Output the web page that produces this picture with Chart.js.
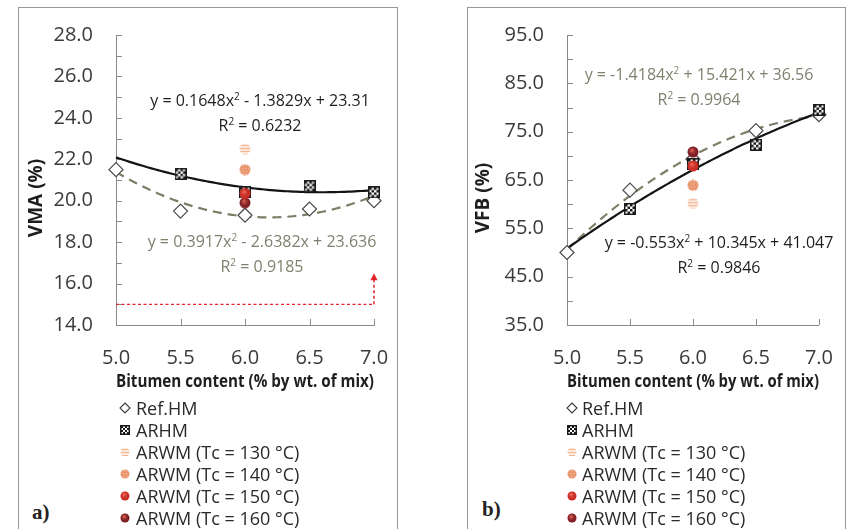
<!DOCTYPE html>
<html>
<head>
<meta charset="utf-8">
<script src="https://cdn.jsdelivr.net/npm/chart.js@4.4.1/dist/chart.umd.min.js"></script>
<style>
  html, body { margin: 0; padding: 0; background: #fff; }
  body { width: 854px; height: 529px; position: relative; overflow: hidden; font-family: "Open Sans", sans-serif; }
  .panel { position: absolute; border: 1px solid #9a9a9a; box-sizing: border-box; }
  canvas.chart { position: absolute; top: 0; }
  .eq { position: absolute; font-size: 16px; line-height: 21px; text-align: center; white-space: nowrap; transform: translateX(-50%); }
  .eq.dark { color: #1e1e1e; }
  .eq.grey { color: #80806f; }
  .legend { position: absolute; font-size: 18px; color: #2a2a2a; }
  .legend .item { position: absolute; height: 22px; white-space: nowrap; line-height: 22px; }
  .legend canvas { position: absolute; }
  .tag { position: absolute; font-family: "Liberation Serif", serif; font-weight: bold; font-size: 21px; color: #222; }
</style>
</head>
<body>
<div class="panel" style="left:18px; top:7px; width:380px; height:530px;"></div>
<div class="panel" style="left:467px; top:7px; width:379px; height:530px;"></div>
<canvas id="cA" class="chart" width="427" height="400" style="left:0px;"></canvas>
<canvas id="cB" class="chart" width="427" height="400" style="left:427px;"></canvas>
<div id="overlay"></div>
<script>
// ---------------- data ----------------
const bitumen = [5.0, 5.5, 6.0, 6.5, 7.0];
const arwmBitumen = 6.0;
const seriesNames = ['Ref.HM', 'ARHM', 'ARWM (Tc = 130 °C)', 'ARWM (Tc = 140 °C)', 'ARWM (Tc = 150 °C)', 'ARWM (Tc = 160 °C)'];

// VMA (%)
const vmaRefHM = [21.5, 19.5, 19.3, 19.6, 20.0];
const vmaARHM  = [null, 21.3, 20.4, 20.7, 20.4];
const vmaARWM  = [22.5, 21.5, 20.35, 19.9];      // Tc = 130, 140, 150, 160
const vmaFitARHM  = [0.1648, -1.3829, 23.31];
const vmaFitRefHM = [0.3917, -2.6382, 23.636];
const vmaR2 = ['0.6232', '0.9185'];
const vmaMinSpec = 15.0;
const vmaArrowTop = 16.5;
const vmaTicks = [14, 28];

// VFB (%)
const vfbRefHM = [50.0, 62.9, 69.3, 75.2, 78.5];
const vfbARHM  = [null, 59.0, 68.3, 72.3, 79.5];
const vfbARWM  = [60.2, 63.9, 67.9, 70.8];
const vfbFitRefHM = [-1.4184, 15.421, 36.56];
const vfbFitARHM  = [-0.553, 10.345, 41.047];
const vfbR2 = ['0.9964', '0.9846'];
const vfbTicks = [35, 95];

const xLabel = 'Bitumen content (% by wt. of mix)';

// ---------------- marker images ----------------
function mk(w, h) { const c = document.createElement('canvas'); c.width = w; c.height = h; return c; }
function markerARHM(s) {
  const c = mk(s, s), g = c.getContext('2d');
  g.fillStyle = '#fff'; g.fillRect(0, 0, s, s);
  const n = 4, cs = (s - 2) / n;
  g.fillStyle = '#1a1a1a';
  for (let i = 0; i < n; i++) for (let j = 0; j < n; j++) if ((i + j) % 2 === 0) g.fillRect(1 + i * cs, 1 + j * cs, cs, cs);
  g.strokeStyle = '#1a1a1a'; g.lineWidth = 1.5; g.strokeRect(0.75, 0.75, s - 1.5, s - 1.5);
  return c;
}
function markerCircle(s, fill, pattern) {
  const c = mk(s, s), g = c.getContext('2d');
  const r = s / 2;
  g.save(); g.beginPath(); g.arc(r, r, r - 0.5, 0, Math.PI * 2); g.closePath();
  g.fillStyle = fill; g.fill(); g.clip();
  if (pattern === 'stripes') {
    g.strokeStyle = '#f2b796'; g.lineWidth = 1;
    for (let y = 2; y < s; y += 3) { g.beginPath(); g.moveTo(0, y + 0.5); g.lineTo(s, y + 0.5); g.stroke(); }
  } else if (pattern === 'dots') {
    g.fillStyle = '#f6c4a6';
    for (let y = 1; y < s; y += 3) for (let x = (y % 2); x < s; x += 3) g.fillRect(x, y, 1.3, 1.3);
  } else if (pattern === 'shade') {
    const gr = g.createRadialGradient(r * 0.8, r * 0.7, 1, r, r, r);
    gr.addColorStop(0, 'rgba(255,120,100,0.6)'); gr.addColorStop(1, 'rgba(0,0,0,0)');
    g.fillStyle = gr; g.fillRect(0, 0, s, s);
  }
  g.restore();
  return c;
}
const arwmStyles = [
  ['#fde8da', 'stripes'],
  ['#e8936a', 'dots'],
  ['#e52f27', 'shade'],
  ['#8a1c26', 'shade']
];

// ---------------- helpers ----------------
function fitCurve(coef) {
  // Excel trendline over category index (1..n) of the bitumen axis
  const pts = [];
  const x0 = bitumen[0], dx = bitumen[1] - bitumen[0];
  for (let k = 0; k <= 80; k++) {
    const x = x0 + (bitumen[bitumen.length - 1] - x0) * k / 80;
    const i = (x - x0) / dx + 1;
    pts.push({ x, y: coef[0] * i * i + coef[1] * i + coef[2] });
  }
  return pts;
}
function pairs(xs, ys) { return xs.map((x, i) => ({ x, y: ys[i] })).filter(p => p.y !== null); }

function buildDatasets(ref, arhm, arwm, fitRef, fitArhm, extra) {
  const ds = [];
  if (extra) ds.push(...extra);
  ds.push({ label: 'fitRef', data: fitCurve(fitRef), showLine: true, borderColor: '#7d7d68', borderWidth: 2.2,
    borderDash: [9, 6], pointRadius: 0, tension: 0, order: 5, clip: false });
  ds.push({ label: 'fitARHM', data: fitCurve(fitArhm), showLine: true, borderColor: '#141414', borderWidth: 2.2,
    pointRadius: 0, tension: 0, order: 4, clip: false });
  ds.push({ label: seriesNames[0], data: pairs(bitumen, ref), showLine: false, pointStyle: 'rectRot', pointRadius: 7,
    pointBackgroundColor: '#fff', pointBorderColor: '#4a4a4a', pointBorderWidth: 1.2, order: 3, clip: false });
  ds.push({ label: seriesNames[1], data: pairs(bitumen, arhm), showLine: false, pointStyle: markerARHM(12), order: 2, clip: false });
  arwm.forEach((v, i) => {
    ds.push({ label: seriesNames[2 + i], data: [{ x: arwmBitumen, y: v }], showLine: false,
      pointStyle: markerCircle(12, arwmStyles[i][0], arwmStyles[i][1]), order: 1, clip: false });
  });
  return ds;
}

const inwardTicks = {
  id: 'inwardTicks',
  beforeDatasetsDraw(chart) {
    const { ctx, scales: { x, y } } = chart;
    ctx.save(); ctx.strokeStyle = '#8a8a8a'; ctx.lineWidth = 1;
    y.ticks.forEach(t => { const py = Math.round(y.getPixelForValue(t.value)) + 0.5;
      ctx.beginPath(); ctx.moveTo(x.left, py); ctx.lineTo(x.left + 6, py); ctx.stroke(); });
    x.ticks.forEach(t => { const px = Math.round(x.getPixelForValue(t.value)) + 0.5;
      ctx.beginPath(); ctx.moveTo(px, y.bottom); ctx.lineTo(px, y.bottom - 6); ctx.stroke(); });
    ctx.restore();
  }
};
const yTitle = {
  id: 'yTitle',
  afterDraw(chart, args, opts) {
    const { ctx } = chart;
    ctx.save(); ctx.translate(opts.x, opts.y); ctx.rotate(-Math.PI / 2);
    ctx.font = 'bold 19px "Open Sans"'; ctx.fillStyle = '#1e1e1e'; ctx.textAlign = 'center'; ctx.textBaseline = 'middle';
    ctx.fillText(opts.text, 0, 0); ctx.restore();
  }
};
const specArrow = {
  id: 'specArrow',
  afterDatasetsDraw(chart, args, opts) {
    if (!opts.on) return;
    const { ctx, scales: { x, y } } = chart;
    const px = x.getPixelForValue(bitumen[bitumen.length - 1]);
    const y0 = y.getPixelForValue(vmaMinSpec), y1 = y.getPixelForValue(vmaArrowTop);
    ctx.save(); ctx.strokeStyle = '#e2232a'; ctx.fillStyle = '#e2232a'; ctx.lineWidth = 1.5; ctx.setLineDash([3, 2.5]);
    ctx.beginPath(); ctx.moveTo(px, y0); ctx.lineTo(px, y1 + 6); ctx.stroke();
    ctx.setLineDash([]);
    ctx.beginPath(); ctx.moveTo(px, y1); ctx.lineTo(px - 3.5, y1 + 7); ctx.lineTo(px + 3.5, y1 + 7); ctx.closePath(); ctx.fill();
    ctx.restore();
  }
};

function makeChart(id, datasets, yRange, yStep, yLabelStep, pad, yWidth, titleX, titleText, arrowOn) {
  return new Chart(document.getElementById(id), {
    type: 'scatter',
    data: { datasets },
    plugins: [inwardTicks, yTitle, specArrow],
    options: {
      responsive: false, animation: false, devicePixelRatio: 1,
      layout: { padding: pad },
      plugins: { legend: { display: false }, tooltip: { enabled: false },
        yTitle: { x: titleX, y: 198, text: titleText }, specArrow: { on: arrowOn } },
      scales: {
        x: { type: 'linear', min: bitumen[0], max: bitumen[bitumen.length - 1],
          ticks: { stepSize: 0.5, padding: 21, color: '#3a3a3a', font: { family: 'Open Sans', size: 20 },
            callback: v => Number(v).toFixed(1) },
          grid: { display: true, drawOnChartArea: false, drawTicks: false },
          border: { display: true, color: '#8a8a8a', width: 1 },
          title: { display: true, text: xLabel, color: '#1e1e1e', font: { family: 'Open Sans', size: 18, weight: 'bold' }, padding: { top: 0, bottom: 0 } },
          afterFit: s => { s.height = 68; } },
        y: { type: 'linear', min: yRange[0], max: yRange[1],
          ticks: { stepSize: yStep, autoSkip: false, padding: 23, color: '#3a3a3a', font: { family: 'Open Sans', size: 20 },
            callback: v => (Math.round((v - yRange[0]) / yStep) % (yLabelStep / yStep) === 0 ? Number(v).toFixed(1) : '') },
          grid: { display: true, drawOnChartArea: false, drawTicks: false },
          border: { display: true, color: '#8a8a8a', width: 1 },
          title: { display: false },
          afterFit: s => { s.width = yWidth; } }
      }
    }
  });
}

const extraA = [{ label: 'spec', data: [{ x: bitumen[0], y: vmaMinSpec }, { x: bitumen[bitumen.length - 1], y: vmaMinSpec }],
  showLine: true, borderColor: '#e2232a', borderWidth: 1.3, borderDash: [3, 2.5], pointRadius: 0, order: 6 }];

makeChart('cA', buildDatasets(vmaRefHM, vmaARHM, vmaARWM, vmaFitRefHM, vmaFitARHM, extraA),
  vmaTicks, 1, 2, { left: 0, right: 53, top: 33, bottom: 7 }, 116, 37, 'VMA (%)', true);
makeChart('cB', buildDatasets(vfbRefHM, vfbARHM, vfbARWM, vfbFitRefHM, vfbFitARHM, null),
  vfbTicks, 5, 10, { left: 0, right: 29, top: 32, bottom: 7 }, 140, 57, 'VFB (%)', false);

// ---------------- overlay text ----------------
const ov = document.getElementById('overlay');
function eq(cls, x, y, html) { const d = document.createElement('div'); d.className = 'eq ' + cls; d.style.left = x + 'px'; d.style.top = y + 'px'; d.innerHTML = html; ov.appendChild(d); }
function fmtEq(c) {
  const t = (v, first) => { const a = Math.abs(v); return (first ? (v < 0 ? '-' : '') : (v < 0 ? ' - ' : ' + ')) + a; };
  return 'y = ' + t(c[0], true) + 'x<sup style="font-size:10px">2</sup>' + t(c[1]) + 'x' + t(c[2]);
}
eq('dark', 260, 86, fmtEq(vmaFitARHM) + '<br>R<sup style="font-size:10px">2</sup> = ' + vmaR2[0]);
eq('grey', 262, 227, fmtEq(vmaFitRefHM) + '<br>R<sup style="font-size:10px">2</sup> = ' + vmaR2[1]);
eq('grey', 699, 60, fmtEq(vfbFitRefHM) + '<br>R<sup style="font-size:10px">2</sup> = ' + vfbR2[0]);
eq('dark', 719, 228, fmtEq(vfbFitARHM) + '<br>R<sup style="font-size:10px">2</sup> = ' + vfbR2[1]);

function legend(mx, tx, y0) {
  const lg = document.createElement('div'); lg.className = 'legend'; lg.style.left = '0px'; lg.style.top = '0px'; ov.appendChild(lg);
  seriesNames.forEach((name, i) => {
    const cy = y0 + i * 21.9;
    let m;
    if (i === 0) { m = mk(12, 12); const g = m.getContext('2d'); g.strokeStyle = '#3a3a3a'; g.lineWidth = 1.1;
      g.beginPath(); g.moveTo(6, 1); g.lineTo(11, 6); g.lineTo(6, 11); g.lineTo(1, 6); g.closePath(); g.stroke(); }
    else if (i === 1) m = markerARHM(10);
    else m = markerCircle(10, arwmStyles[i - 2][0], arwmStyles[i - 2][1]);
    m.style.left = (mx - m.width / 2) + 'px'; m.style.top = (cy - m.height / 2) + 'px'; lg.appendChild(m);
    const it = document.createElement('div'); it.className = 'item'; it.textContent = name;
    it.style.left = tx + 'px'; it.style.top = (cy - 11) + 'px'; lg.appendChild(it);
  });
}
legend(125, 136, 408);
legend(572, 582, 408);

function tag(x, y, t) { const d = document.createElement('div'); d.className = 'tag'; d.style.left = x + 'px'; d.style.top = y + 'px'; d.textContent = t; ov.appendChild(d); }
tag(32, 500, 'a)');
tag(482, 497, 'b)');
</script>
</body>
</html>
